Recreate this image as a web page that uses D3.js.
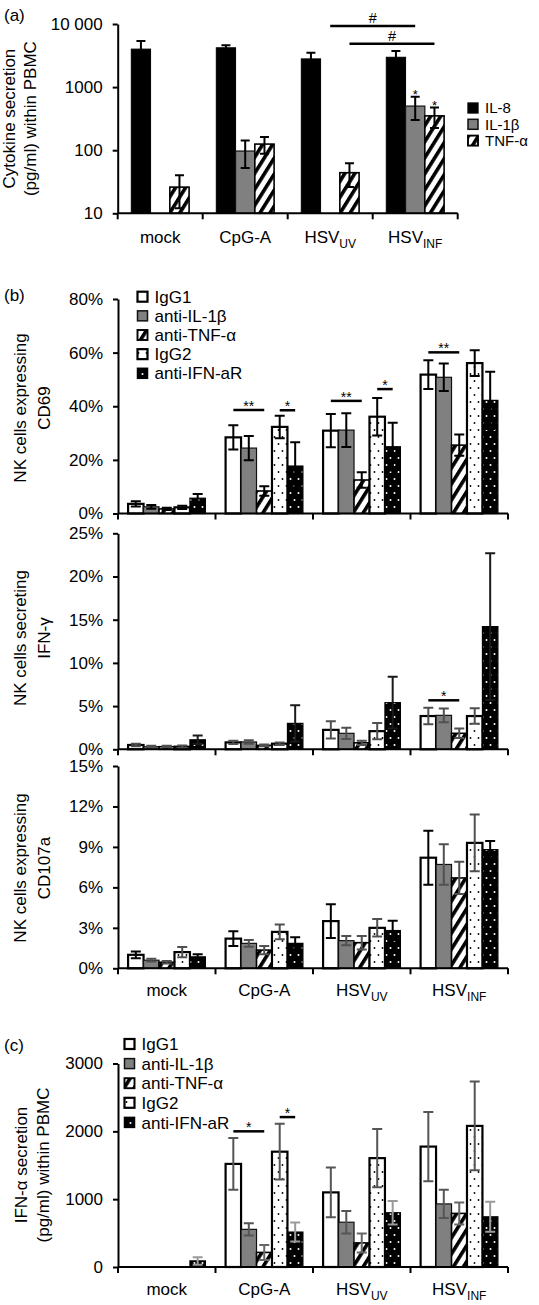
<!DOCTYPE html>
<html><head><meta charset="utf-8">
<script src="https://cdn.jsdelivr.net/npm/d3@7"></script>
<style>body{margin:0;background:#fff} svg text{font-family:"Liberation Sans",Arial,Helvetica,sans-serif}</style>
</head><body>
<svg id="chart" width="539" height="1305"></svg>
<script>
// ---------------- DATA ----------------
const categories = ["mock", "CpG-A", "HSV_UV", "HSV_INF"];

// panel (a) – cytokine secretion (pg/ml), log axis
const seriesA = ["IL-8", "IL-1β", "TNF-α"];
const il8 = [4000, 4200, 2800, 2970];
const il8Err = [1380, 420, 700, 750];
const il1b = [null, 97, null, 500];
const il1bErr = [null, 45, null, 200];
const tnf = [26, 125, 44, 350];
const tnfErr = [14, 37, 18, 125];
const ticksA = [10, 100, 1000, 10000];
const tickLabelsA = ["10", "100", "1000", "10 000"];

// panels (b) and (c) – antibody treatments
const seriesB = ["IgG1", "anti-IL-1β", "anti-TNF-α", "IgG2", "anti-IFN-aR"];

// (b) NK cells expressing CD69 (%)
const cd69IgG1 = [3.6, 28.4, 30.9, 51.8],  cd69IgG1Err = [1.0, 4.5, 6.2, 5.4];
const cd69IL1b = [2.5, 24.4, 31.1, 50.8],  cd69IL1bErr = [0.7, 4.5, 6.3, 5.1];
const cd69TNF  = [1.7, 8.4, 12.5, 25.5],   cd69TNFErr  = [0.4, 1.8, 2.9, 4.0];
const cd69IgG2 = [2.3, 32.3, 36.1, 56.1],  cd69IgG2Err = [0.6, 4.2, 7.0, 4.8];
const cd69IFNaR = [5.7, 17.7, 24.9, 42.2], cd69IFNaRErr = [1.6, 8.9, 8.9, 10.7];
const ticksCD69 = [0, 20, 40, 60, 80];

// (b) NK cells secreting IFN-γ (%)
const ifngIgG1 = [0.5, 0.8, 2.25, 3.85],  ifngIgG1Err = [0.15, 0.2, 1.0, 0.95];
const ifngIL1b = [0.3, 0.85, 1.85, 3.93], ifngIL1bErr = [0.1, 0.2, 0.65, 0.8];
const ifngTNF  = [0.3, 0.45, 0.75, 1.85], ifngTNFErr  = [0.1, 0.1, 0.25, 0.55];
const ifngIgG2 = [0.3, 0.65, 2.1, 3.85],  ifngIgG2Err = [0.15, 0.15, 0.95, 0.9];
const ifngIFNaR = [1.1, 3.0, 5.4, 14.2],  ifngIFNaRErr = [0.5, 2.1, 3.0, 8.5];
const ticksIFNg = [0, 5, 10, 15, 20, 25];

// (b) NK cells expressing CD107a (%)
const cd107IgG1 = [1.0, 2.2, 3.5, 8.2],   cd107IgG1Err = [0.25, 0.55, 1.25, 2.0];
const cd107IL1b = [0.6, 1.85, 2.05, 7.7], cd107IL1bErr = [0.1, 0.25, 0.35, 1.5];
const cd107TNF  = [0.45, 1.35, 1.9, 6.7], cd107TNFErr  = [0.1, 0.3, 0.5, 1.2];
const cd107IgG2 = [1.2, 2.7, 3.0, 9.3],   cd107IgG2Err = [0.38, 0.55, 0.65, 2.1];
const cd107IFNaR = [0.85, 1.85, 2.8, 8.8], cd107IFNaRErr = [0.2, 0.45, 0.72, 0.64];
const ticksCD107 = [0, 3, 6, 9, 12, 15];

// (c) IFN-α secretion (pg/ml)
const ifnaIgG1 = [null, 1520, 1100, 1775], ifnaIgG1Err = [null, 380, 365, 510];
const ifnaIL1b = [null, 555, 660, 930],    ifnaIL1bErr = [null, 90, 165, 207];
const ifnaTNF  = [null, 215, 355, 790],    ifnaTNFErr  = [null, 110, 140, 162];
const ifnaIgG2 = [null, 1700, 1605, 2080], ifnaIgG2Err = [null, 410, 430, 655];
const ifnaIFNaR = [90, 515, 800, 740],     ifnaIFNaRErr = [55, 140, 172, 221];
const ticksIFNa = [0, 1000, 2000, 3000];

// significance annotations
const sigA = [
  {c1: "HSV_UV", c2: "HSV_INF", s: "IL-1β", v: 9300, label: "#"},
  {c1: "HSV_UV", c2: "HSV_INF", s: "TNF-α", v: 4850, label: "#"}
];
const starsA = [{c: "HSV_INF", s: "IL-1β"}, {c: "HSV_INF", s: "TNF-α"}];
const sigCD69 = [
  {c: "CpG-A", a: "IgG1", b: "anti-TNF-α", v: 38.6, label: "**"},
  {c: "CpG-A", a: "IgG2", b: "anti-IFN-aR", v: 38.5, label: "*"},
  {c: "HSV_UV", a: "IgG1", b: "anti-TNF-α", v: 42.0, label: "**"},
  {c: "HSV_UV", a: "IgG2", b: "anti-IFN-aR", v: 46.4, label: "*"},
  {c: "HSV_INF", a: "IgG1", b: "anti-TNF-α", v: 60.1, label: "**"}
];
const sigIFNg = [{c: "HSV_INF", a: "IgG1", b: "anti-TNF-α", v: 5.67, label: "*"}];
const sigIFNa = [
  {c: "CpG-A", a: "IgG1", b: "anti-TNF-α", v: 2000, label: "*"},
  {c: "CpG-A", a: "IgG2", b: "anti-IFN-aR", v: 2210, label: "*"}
];

// ---------------- STYLES ----------------
const stylesA = [
  {fill: "#000", stroke: "#000", sw: 1, err: "#000"},
  {fill: "#808080", stroke: "#111", sw: 1.2, err: "#000"},
  {fill: "url(#stripe)", stroke: "#000", sw: 1.6, err: "#000"}
];
const baseStylesB = [
  {fill: "#fff", stroke: "#000", sw: 2.2},
  {fill: "#808080", stroke: "#111", sw: 1.2},
  {fill: "url(#stripe)", stroke: "#000", sw: 1.6},
  {fill: "url(#dots)", stroke: "#000", sw: 2.2},
  {fill: "url(#dotsW)", stroke: "#000", sw: 1.2}
];
const errCD69 = ["#000", "#000", "#000", "#000", "#000"];
const errIFNg = ["#505050", "#505050", "#505050", "#505050", "#1a1a1a"];
const errCD107 = ["#000", "#505050", "#505050", "#505050", "#000"];
const errIFNa = ["#555", "#555", "#666", "#555", "#9a9a9a"];

// ---------------- DRAW ----------------
const svg = d3.select("#chart");
const defs = svg.append("defs");
const ps = defs.append("pattern").attr("id", "stripe").attr("patternUnits", "userSpaceOnUse")
  .attr("width", 8.5).attr("height", 8.5).attr("patternTransform", "rotate(32)");
ps.append("rect").attr("width", 8.5).attr("height", 8.5).attr("fill", "#fff");
ps.append("rect").attr("width", 3.6).attr("height", 8.5).attr("fill", "#000");
const pd = defs.append("pattern").attr("id", "dots").attr("patternUnits", "userSpaceOnUse")
  .attr("width", 8).attr("height", 14);
pd.append("rect").attr("width", 8).attr("height", 14).attr("fill", "#fff");
pd.append("circle").attr("cx", 2.5).attr("cy", 3).attr("r", 0.9).attr("fill", "#000");
pd.append("circle").attr("cx", 6.5).attr("cy", 10).attr("r", 0.9).attr("fill", "#000");
const pw = defs.append("pattern").attr("id", "dotsW").attr("patternUnits", "userSpaceOnUse")
  .attr("width", 8).attr("height", 14);
pw.append("rect").attr("width", 8).attr("height", 14).attr("fill", "#000");
pw.append("circle").attr("cx", 2.5).attr("cy", 3).attr("r", 1).attr("fill", "#fff");
pw.append("circle").attr("cx", 6.5).attr("cy", 10).attr("r", 1).attr("fill", "#fff");

const FS = 17;

function catLabel(sel, c) {
  const parts = c.split("_");
  sel.append("tspan").text(parts[0]);
  if (parts[1]) sel.append("tspan").attr("font-size", 12).attr("dy", 5).text(parts[1]);
}

function xAxis(g, x0, y0, labels, labelY) {
  const step = x0.step(), r = x0.range();
  const b = d3.range(categories.length + 1).map(i => r[0] + i * step);
  g.append("line").attr("x1", r[0]).attr("x2", r[1]).attr("y1", y0).attr("y2", y0)
    .attr("stroke", "#000").attr("stroke-width", 2);
  g.selectAll(null).data(b).join("line").attr("x1", d => d).attr("x2", d => d)
    .attr("y1", y0).attr("y2", y0 + 6).attr("stroke", "#000").attr("stroke-width", 2);
  if (labels) {
    categories.forEach(c => {
      const t = g.append("text").attr("x", x0(c) + x0.bandwidth() / 2).attr("y", labelY)
        .attr("text-anchor", "middle").attr("font-size", FS);
      catLabel(t, c);
    });
  }
}

function yAxis(g, y, x, ticks, fmt) {
  const ax = g.append("g").attr("transform", `translate(${x},0)`)
    .call(d3.axisLeft(y).tickValues(ticks).tickFormat(fmt).tickSize(5).tickSizeOuter(0).tickPadding(10));
  ax.attr("font-family", null).attr("font-size", FS);
  ax.selectAll("text").attr("fill", "#000");
  ax.select(".domain").attr("stroke-width", 2);
  ax.selectAll(".tick line").attr("stroke-width", 2);
}

function drawBars(g, x0, x1, y, base, series, vals, errs, styles, capW) {
  series.forEach((s, si) => {
    const st = styles[si];
    const data = categories.map((c, i) => ({c, v: vals[si][i]})).filter(d => d.v != null && d.v > 0);
    g.selectAll(null).data(data).join("rect")
      .attr("x", d => x0(d.c) + x1(s)).attr("y", d => y(d.v))
      .attr("width", x1.bandwidth()).attr("height", d => y(base) - y(d.v))
      .attr("fill", st.fill).attr("stroke", st.stroke).attr("stroke-width", st.sw);
  });
  series.forEach((s, si) => {
    const st = styles[si];
    const data = categories.map((c, i) => ({c, v: vals[si][i], e: errs[si][i]}))
      .filter(d => d.v != null && d.v > 0 && d.e);
    g.append("g").attr("stroke", st.err).attr("stroke-width", 2).attr("fill", "none")
      .selectAll(null).data(data).join("path")
      .attr("d", d => {
        const x = x0(d.c) + x1(s) + x1.bandwidth() / 2;
        const t = y(d.v + d.e);
        const lo = d.v - d.e;
        const bb = y(lo > base ? lo : base);
        let p = `M${x},${t}V${bb}M${x - capW / 2},${t}H${x + capW / 2}`;
        if (lo > base) p += `M${x - capW / 2},${bb}H${x + capW / 2}`;
        return p;
      });
  });
}

function drawSig(g, x0, x1, y, sigs) {
  sigs.forEach(d => {
    const xa = x0(d.c) + x1(d.a) + x1.bandwidth() / 2;
    const xb = x0(d.c) + x1(d.b) + x1.bandwidth() / 2;
    const yy = y(d.v);
    g.append("line").attr("x1", xa).attr("x2", xb).attr("y1", yy).attr("y2", yy)
      .attr("stroke", "#000").attr("stroke-width", 2.5);
    g.append("text").attr("x", (xa + xb) / 2).attr("y", yy + 1).attr("text-anchor", "middle")
      .attr("font-size", 14).text(d.label);
  });
}

function legend(g, x, y0, dy, names, styles, fs) {
  names.forEach((n, i) => {
    const cy = y0 + i * dy;
    g.append("rect").attr("x", x).attr("y", cy - 5).attr("width", 10).attr("height", 10)
      .attr("fill", styles[i].fill).attr("stroke", styles[i].stroke)
      .attr("stroke-width", Math.min(styles[i].sw + 0.3, 2.2));
    g.append("text").attr("x", x + 17).attr("y", cy + fs * 0.36).attr("font-size", fs).text(n);
  });
}

function yTitle(g, x, cy, text) {
  g.append("text").attr("transform", `translate(${x},${cy}) rotate(-90)`)
    .attr("text-anchor", "middle").attr("font-size", FS).text(text);
}

// ----- panel (a)
{
  const g = svg.append("g");
  const x0 = d3.scaleBand().domain(categories).range([117.7, 457.7]).paddingInner(0.32).paddingOuter(0.16);
  const x1 = d3.scaleBand().domain(seriesA).range([0, x0.bandwidth()]);
  const y = d3.scaleLog().domain([10, 10000]).range([213.3, 24]);
  drawBars(g, x0, x1, y, 10, seriesA, [il8, il1b, tnf], [il8Err, il1bErr, tnfErr], stylesA, 9);
  yAxis(g, y, 117.7, ticksA, (d, i) => tickLabelsA[i]);
  xAxis(g, x0, 213.3, true, 243);
  sigA.forEach(d => {
    const xa = x0(d.c1) + x1(d.s) + x1.bandwidth() / 2;
    const xb = x0(d.c2) + x1(d.s) + x1.bandwidth() / 2;
    const yy = y(d.v);
    g.append("line").attr("x1", xa).attr("x2", xb).attr("y1", yy).attr("y2", yy)
      .attr("stroke", "#000").attr("stroke-width", 2.5);
    g.append("text").attr("x", (xa + xb) / 2).attr("y", yy - 3).attr("text-anchor", "middle")
      .attr("font-size", 14.5).text(d.label);
  });
  starsA.forEach(d => {
    const si = seriesA.indexOf(d.s), ci = categories.indexOf(d.c);
    const v = [il8, il1b, tnf][si][ci], e = [il8Err, il1bErr, tnfErr][si][ci];
    g.append("text").attr("x", x0(d.c) + x1(d.s) + x1.bandwidth() / 2).attr("y", y(v + e) + 2)
      .attr("text-anchor", "middle").attr("font-size", 13).text("*");
  });
  legend(g, 468, 108, 16.3, seriesA, stylesA, 15);
  yTitle(g, 15, 118.6, "Cytokine secretion");
  yTitle(g, 36, 118.6, "(pg/ml) within PBMC");
  g.append("text").attr("x", 4).attr("y", 21).attr("font-size", FS).text("(a)");
}

// ----- panel (b)
{
  const g = svg.append("g");
  const x0 = d3.scaleBand().domain(categories).range([118, 508]).paddingInner(0.207).paddingOuter(0.1035);
  const x1 = d3.scaleBand().domain(seriesB).range([0, x0.bandwidth()]);
  const pct = d => d + "%";

  // CD69
  const y1 = d3.scaleLinear().domain([0, 80]).range([513.5, 299]);
  const st1 = baseStylesB.map((s, i) => ({...s, err: errCD69[i]}));
  drawBars(g, x0, x1, y1, 0, seriesB, [cd69IgG1, cd69IL1b, cd69TNF, cd69IgG2, cd69IFNaR],
    [cd69IgG1Err, cd69IL1bErr, cd69TNFErr, cd69IgG2Err, cd69IFNaRErr], st1, 10);
  yAxis(g, y1, 118, ticksCD69, pct);
  xAxis(g, x0, 513.5, false);
  drawSig(g, x0, x1, y1, sigCD69);
  legend(g, 137.5, 296.7, 19.15, seriesB, st1, FS);
  yTitle(g, 26, 408, "NK cells expressing");
  yTitle(g, 50, 408, "CD69");
  g.append("text").attr("x", 4).attr("y", 301).attr("font-size", FS).text("(b)");

  // IFN-gamma
  const y2 = d3.scaleLinear().domain([0, 25]).range([749.3, 533.3]);
  const st2 = baseStylesB.map((s, i) => ({...s, err: errIFNg[i]}));
  drawBars(g, x0, x1, y2, 0, seriesB, [ifngIgG1, ifngIL1b, ifngTNF, ifngIgG2, ifngIFNaR],
    [ifngIgG1Err, ifngIL1bErr, ifngTNFErr, ifngIgG2Err, ifngIFNaRErr], st2, 10);
  yAxis(g, y2, 118, ticksIFNg, pct);
  xAxis(g, x0, 749.3, false);
  drawSig(g, x0, x1, y2, sigIFNg);
  yTitle(g, 26, 638, "NK cells secreting");
  yTitle(g, 50, 638, "IFN-γ");

  // CD107a
  const y3 = d3.scaleLinear().domain([0, 15]).range([968.3, 766]);
  const st3 = baseStylesB.map((s, i) => ({...s, err: errCD107[i]}));
  drawBars(g, x0, x1, y3, 0, seriesB, [cd107IgG1, cd107IL1b, cd107TNF, cd107IgG2, cd107IFNaR],
    [cd107IgG1Err, cd107IL1bErr, cd107TNFErr, cd107IgG2Err, cd107IFNaRErr], st3, 10);
  yAxis(g, y3, 118, ticksCD107, pct);
  xAxis(g, x0, 968.3, true, 995.5);
  yTitle(g, 26, 868, "NK cells expressing");
  yTitle(g, 50, 868, "CD107a");
}

// ----- panel (c)
{
  const g = svg.append("g");
  const x0 = d3.scaleBand().domain(categories).range([118, 508]).paddingInner(0.207).paddingOuter(0.1035);
  const x1 = d3.scaleBand().domain(seriesB).range([0, x0.bandwidth()]);
  const y = d3.scaleLinear().domain([0, 3000]).range([1267, 1063.5]);
  const st = baseStylesB.map((s, i) => ({...s, err: errIFNa[i]}));
  drawBars(g, x0, x1, y, 0, seriesB, [ifnaIgG1, ifnaIL1b, ifnaTNF, ifnaIgG2, ifnaIFNaR],
    [ifnaIgG1Err, ifnaIL1bErr, ifnaTNFErr, ifnaIgG2Err, ifnaIFNaRErr], st, 10);
  yAxis(g, y, 118, ticksIFNa, d => String(d));
  xAxis(g, x0, 1267, true, 1295);
  drawSig(g, x0, x1, y, sigIFNa);
  legend(g, 124.5, 1044, 19.6, seriesB, st, FS);
  yTitle(g, 27, 1165, "IFN-α secretion");
  yTitle(g, 49, 1165, "(pg/ml) within PBMC");
  g.append("text").attr("x", 4).attr("y", 1051).attr("font-size", FS).text("(c)");
}
</script>
</body></html>
